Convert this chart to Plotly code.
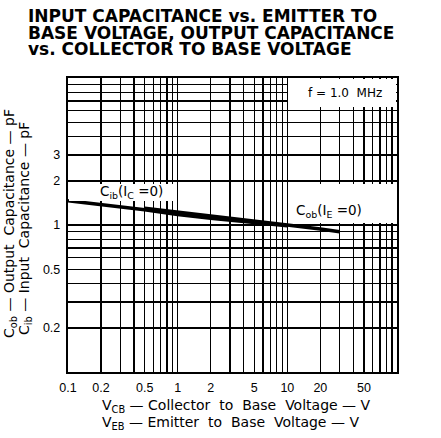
import plotly.graph_objects as go

# ---- data ----
cib_v = [0.1, 0.2, 0.5, 1, 2, 5, 10]
cib_c = [1.46, 1.38, 1.27, 1.18, 1.11, 1.04, 0.99]
cob_v = [0.5, 1, 2, 5, 10, 20, 30]
cob_c = [1.30, 1.22, 1.15, 1.06, 1.00, 0.94, 0.90]

x_tickvals = [0.1, 0.2, 0.5, 1, 2, 5, 10, 20, 50]
x_ticktext = ["0.1", "0.2", "0.5", "1", "2", "5", "10", "20", "50"]
x_minor = [0.3, 0.4, 0.6, 0.7, 0.8, 0.9, 3, 4, 6, 7, 8, 9,
           30, 40, 60, 70, 80, 90]
y_tickvals = [0.2, 0.5, 1, 2, 3]
y_ticktext = ["0.2", "0.5", "1", "2", "3"]
y_minor = [0.3, 0.4, 0.6, 0.7, 0.8, 0.9, 4, 5, 6, 7, 8, 9]

title_lines = ["INPUT CAPACITANCE vs. EMITTER TO",
               "BASE VOLTAGE, OUTPUT CAPACITANCE",
               "vs. COLLECTOR TO BASE VOLTAGE"]

W, H = 441, 438
L, T = 68, 78
PW, PH = 329, 294
R, B = W - L - PW, H - T - PH


def px(xp):
    return (xp - L) / PW


def py(yp):
    return 1 - (yp - T) / PH


fig = go.Figure()
fig.add_trace(go.Scatter(x=cib_v, y=cib_c, mode="lines",
                         line=dict(color="black", width=3.5), showlegend=False,
                         hoverinfo="skip"))
fig.add_trace(go.Scatter(x=cob_v, y=cob_c, mode="lines",
                         line=dict(color="black", width=3.5), showlegend=False,
                         hoverinfo="skip"))

axis_common = dict(type="log", showline=True, linecolor="black", linewidth=2.2,
                   mirror=True, showgrid=True, gridcolor="black", gridwidth=1.5,
                   zeroline=False, ticks="",
                   tickfont=dict(family="Liberation Sans", size=12.5, color="black"))

fig.update_xaxes(range=[-1, 2], tickvals=x_tickvals, ticktext=x_ticktext,
                 minor=dict(tickvals=x_minor, showgrid=True, gridcolor="black",
                            gridwidth=1.5, ticks=""),
                 ticklabelstandoff=3, **axis_common)
fig.update_yaxes(range=[-1, 1], tickvals=y_tickvals, ticktext=y_ticktext,
                 minor=dict(tickvals=y_minor, showgrid=True, gridcolor="black",
                            gridwidth=1.5, ticks=""),
                 ticklabelstandoff=3, **axis_common)

shapes = []
# white label boxes
for x0, x1, y0, y1 in [(69, 173, 184, 201), (288, 396, 184, 223), (288, 396, 79, 107)]:
    shapes.append(dict(type="rect", xref="paper", yref="paper",
                       x0=px(x0), x1=px(x1), y0=py(y1), y1=py(y0),
                       fillcolor="white", line=dict(width=0), layer="above"))

ann = []
for i, t in enumerate(title_lines):
    ann.append(dict(text=t, xref="paper", yref="paper", x=px(26), y=py(16 + i * 16.5),
                    xanchor="left", yanchor="middle", showarrow=False,
                    font=dict(family="DejaVu Sans", size=17, color="black", weight="bold")))

lab_font = dict(family="DejaVu Sans", size=13.5, color="black")
ann.append(dict(text="C<sub>ib</sub>(I<sub>C</sub> =0)", xref="paper", yref="paper",
                x=px(131), y=py(192), xanchor="center", yanchor="middle",
                showarrow=False, font=lab_font))
ann.append(dict(text="C<sub>ob</sub>(I<sub>E</sub> =0)", xref="paper", yref="paper",
                x=px(329), y=py(211), xanchor="center", yanchor="middle",
                showarrow=False, font=lab_font))
ann.append(dict(text="f = 1.0  MHz", xref="paper", yref="paper",
                x=px(345), y=py(93), xanchor="center", yanchor="middle",
                showarrow=False, font=dict(family="DejaVu Sans", size=12, color="black")))

ax_font = dict(family="DejaVu Sans", size=14, color="black")
ann.append(dict(text="V<sub>CB</sub> — Collector  to  Base  Voltage — V", xref="paper", yref="paper",
                x=px(100), y=py(406), xanchor="left", yanchor="middle",
                showarrow=False, font=ax_font))
ann.append(dict(text="V<sub>EB</sub> — Emitter  to  Base  Voltage — V", xref="paper", yref="paper",
                x=px(100), y=py(423), xanchor="left", yanchor="middle",
                showarrow=False, font=ax_font))
ann.append(dict(text="C<sub>ob</sub> — Output  Capacitance — pF", xref="paper", yref="paper",
                x=px(10), y=py(224), xanchor="center", yanchor="middle", textangle=-90,
                showarrow=False, font=ax_font))
ann.append(dict(text="C<sub>ib</sub> — Input  Capacitance — pF", xref="paper", yref="paper",
                x=px(25), y=py(229), xanchor="center", yanchor="middle", textangle=-90,
                showarrow=False, font=ax_font))

fig.update_layout(width=W, height=H, margin=dict(l=L, r=R, t=T, b=B),
                  paper_bgcolor="white", plot_bgcolor="white",
                  shapes=shapes, annotations=ann, showlegend=False,
                  hovermode=False)

fig.write_html("out.html", config={"displayModeBar": False, "staticPlot": True},
               post_script="document.body.style.margin='0';document.body.style.overflow='hidden';")
